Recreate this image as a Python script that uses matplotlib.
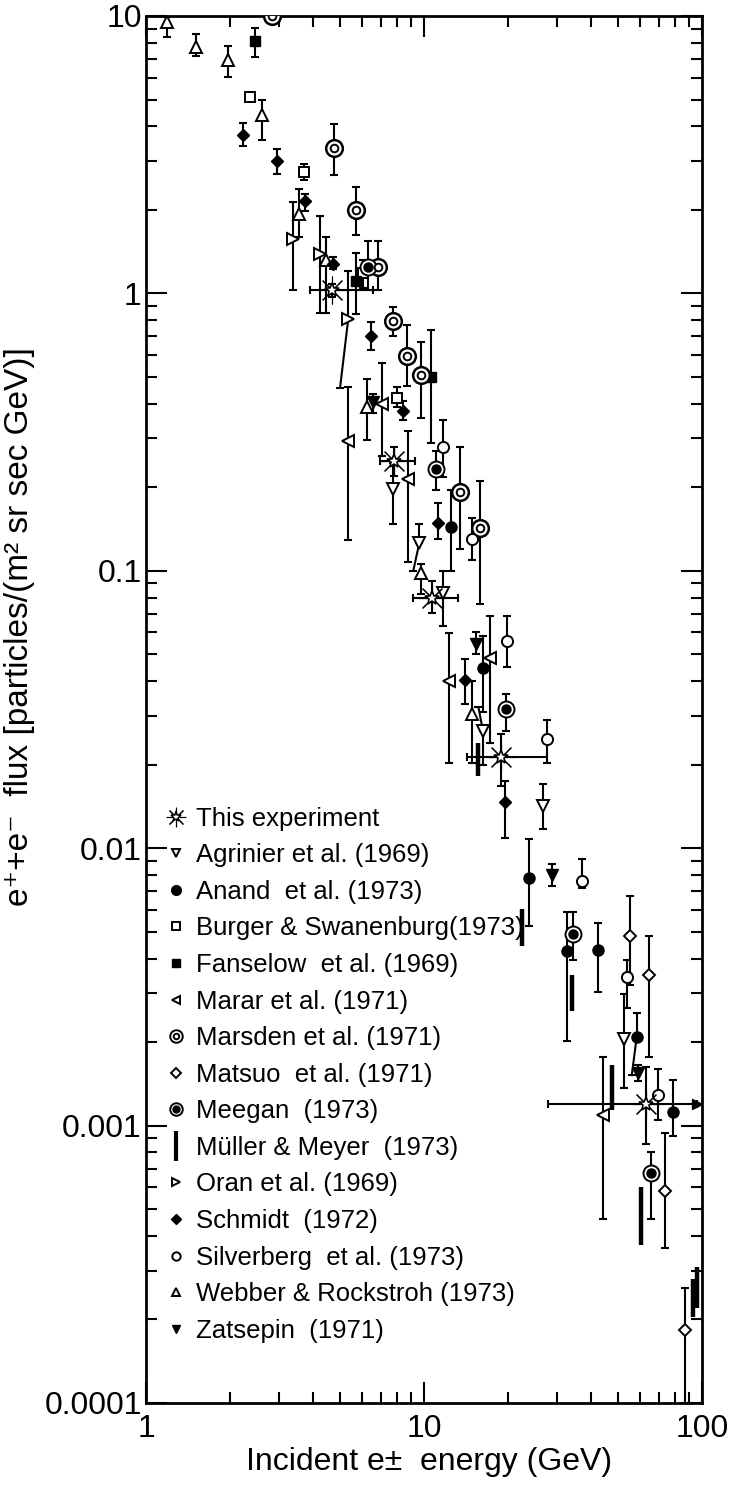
import numpy as np
import matplotlib.pyplot as plt
from matplotlib.lines import Line2D
from matplotlib.ticker import FixedLocator, FixedFormatter, LogLocator, NullFormatter

plt.rcParams['font.family'] = ['Liberation Sans', 'DejaVu Sans']

# ---- data (energy GeV, flux, lower, upper) ----
this_x = [4.68, 7.8, 10.66, 18.9, 62.9]
this_y = [1.025, 0.248, 0.080, 0.0213, 0.0012]
this_xlo = [3.89, 6.93, 9.14, 14.3, 27.9]
this_xhi = [6.56, 9.3, 13.3, 27.7, 95.7]
this_ylo = [0.97, 0.22, 0.0706, 0.0168, 0.00086]
this_yhi = [1.08, 0.28, 0.092, 0.0258, 0.00163]

agr_x = [7.76, 9.62, 11.67, 16.3, 26.9, 52.4]
agr_y = [0.197, 0.126, 0.083, 0.0264, 0.0142, 0.00206]
agr_lo = [0.148, 0.126, 0.063, 0.020, 0.0117, 0.00137]
agr_hi = [0.245, 0.147, 0.100, 0.0264, 0.0171, 0.00299]

anand_x = [12.5, 16.3, 23.9, 32.6, 42.4, 58.2, 78.8]
anand_y = [0.144, 0.0448, 0.00778, 0.00425, 0.0043, 0.00208, 0.00112]
anand_lo = [0.100, 0.031, 0.00524, 0.00202, 0.00303, 0.00208, 0.00092]
anand_hi = [0.195, 0.058, 0.0108, 0.00587, 0.00537, 0.00254, 0.00146]

burger_x = [2.36, 3.70, 6.02, 8.0]
burger_y = [5.12, 2.75, 1.18, 0.42]
burger_lo = [5.12, 2.57, 1.05, 0.39]
burger_hi = [5.12, 2.93, 1.32, 0.46]

fans_x = [2.47, 5.69, 10.57]
fans_y = [8.12, 1.11, 0.50]
fans_lo = [7.1, 0.84, 0.29]
fans_hi = [9.07, 1.40, 0.74]

marar_x = [5.31, 7.08, 8.78, 12.33, 17.3, 43.9]
marar_y = [0.294, 0.40, 0.214, 0.040, 0.0484, 0.00109]
marar_lo = [0.129, 0.26, 0.108, 0.0202, 0.024, 0.00046]
marar_hi = [0.46, 0.56, 0.32, 0.0595, 0.069, 0.00176]

mars_x = [2.83, 4.76, 5.69, 6.85, 7.71, 8.67, 9.73, 13.5, 15.9]
mars_y = [10.0, 3.34, 2.0, 1.25, 0.795, 0.597, 0.51, 0.192, 0.1426]
mars_lo = [9.7, 2.67, 1.62, 1.03, 0.70, 0.465, 0.355, 0.12, 0.076]
mars_hi = [10.3, 4.07, 2.42, 1.55, 0.89, 0.77, 0.67, 0.28, 0.21]

mats_x = [55.1, 64.6, 73.8, 87.1]
mats_y = [0.00481, 0.00348, 0.00058, 0.000183]
mats_lo = [0.00322, 0.00176, 0.000363, 0.00009]
mats_hi = [0.00671, 0.00481, 0.00094, 0.00026]

meeg_x = [6.3, 11.0, 19.7, 34.4, 65.4]
meeg_y = [1.25, 0.233, 0.0317, 0.0049, 0.000673]
meeg_lo = [1.03, 0.195, 0.0265, 0.00394, 0.00046]
meeg_hi = [1.55, 0.27, 0.036, 0.00587, 0.0008]

muller_x = [15.6, 22.6, 34.2, 47.3, 60.2, 92.5, 96.0]
muller_lo = [0.0182, 0.00443, 0.00258, 0.00114, 0.00037, 0.000205, 0.00022]
muller_hi = [0.024, 0.00605, 0.00348, 0.00166, 0.000602, 0.00028, 0.00031]

oran_x = [3.39, 4.22, 5.34]
oran_y = [1.57, 1.39, 0.81]
oran_lo = [1.03, 0.85, 0.81]
oran_hi = [2.13, 1.9, 1.2]

schm_x = [2.24, 2.95, 3.73, 4.72, 6.43, 8.38, 11.2, 14.1, 19.56]
schm_y = [3.72, 3.0, 2.15, 1.28, 0.70, 0.378, 0.149, 0.0405, 0.0147]
schm_lo = [3.39, 2.7, 1.98, 1.22, 0.625, 0.35, 0.13, 0.033, 0.0109]
schm_hi = [4.1, 3.32, 2.29, 1.35, 0.79, 0.41, 0.175, 0.048, 0.0175]

silv_x = [11.7, 14.85, 19.9, 27.6, 36.9, 53.6, 69.3]
silv_y = [0.279, 0.13, 0.056, 0.0247, 0.0076, 0.00342, 0.00129]
silv_lo = [0.218, 0.109, 0.045, 0.0203, 0.00721, 0.00265, 0.00105]
silv_hi = [0.35, 0.155, 0.069, 0.029, 0.00915, 0.00394, 0.0016]

webb_x = [1.19, 1.51, 1.98, 2.62, 3.54, 4.43, 6.22, 9.76, 14.9]
webb_y = [9.5, 7.74, 6.93, 4.4, 1.94, 1.32, 0.389, 0.098, 0.0304]
webb_lo = [8.4, 7.2, 6.04, 3.58, 1.60, 0.85, 0.295, 0.0826, 0.0203]
webb_hi = [9.9, 8.6, 7.8, 4.98, 2.37, 1.6, 0.49, 0.106, 0.040]

zats_x = [6.57, 15.35, 28.9, 59.0]
zats_y = [0.405, 0.0543, 0.008, 0.00155]
zats_lo = [0.37, 0.050, 0.0073, 0.00145]
zats_hi = [0.435, 0.060, 0.0088, 0.00166]

# slanted error-bar legs (from point to displaced cap)
leg_x0 = [5.34, 9.62, 16.3, 58.2]
leg_y0 = [0.81, 0.126, 0.0264, 0.00208]
leg_x1 = [4.99, 9.15, 15.7, 55.9]
leg_y1 = [0.457, 0.100, 0.0322, 0.00152]

labels = ['This experiment', 'Agrinier et al. (1969)', 'Anand  et al. (1973)',
          'Burger & Swanenburg(1973)', 'Fanselow  et al. (1969)', 'Marar et al. (1971)',
          'Marsden et al. (1971)', 'Matsuo  et al. (1971)', 'Meegan  (1973)',
          'Müller & Meyer  (1973)', 'Oran et al. (1969)', 'Schmidt  (1972)',
          'Silverberg  et al. (1973)', 'Webber & Rockstroh (1973)', 'Zatsepin  (1971)']

fig = plt.figure(figsize=(7.34, 14.88), dpi=100)
ax = fig.add_axes([146/734, 1-1403/1488, 556/734, 1387/1488])
ax.set_xscale('log')
ax.set_yscale('log')
ax.set_xlim(1, 100)
ax.set_ylim(1e-4, 10)

ebar = dict(fmt='none', ecolor='k', elinewidth=1.5, capsize=3, capthick=1.5, zorder=2)


def series(x, y, lo, hi, **kw):
    x = np.array(x); y = np.array(y)
    ax.errorbar(x, y, yerr=[y - np.array(lo), np.array(hi) - y], **ebar)
    ax.plot(x, y, ls='none', zorder=3, **kw)


open_kw = dict(mfc='white', mec='k', mew=1.4)
series(webb_x, webb_y, webb_lo, webb_hi, marker='^', ms=8, **open_kw)
series(agr_x, agr_y, agr_lo, agr_hi, marker='v', ms=8, **open_kw)
series(anand_x, anand_y, anand_lo, anand_hi, marker='o', ms=8, color='k')
series(burger_x, burger_y, burger_lo, burger_hi, marker='s', ms=7, **open_kw)
series(fans_x, fans_y, fans_lo, fans_hi, marker='s', ms=7, color='k')
series(marar_x, marar_y, marar_lo, marar_hi, marker='<', ms=8, **open_kw)
series(mars_x, mars_y, mars_lo, mars_hi, marker='o', ms=12, mfc='white', mec='k', mew=1.8)
ax.plot(mars_x, mars_y, ls='none', marker='o', ms=5.5, zorder=4, **open_kw)
series(mats_x, mats_y, mats_lo, mats_hi, marker='D', ms=6, **open_kw)
series(meeg_x, meeg_y, meeg_lo, meeg_hi, marker='o', ms=11.5, **open_kw)
ax.plot(meeg_x, meeg_y, ls='none', marker='o', ms=6.5, color='k', zorder=4)
series(oran_x, oran_y, oran_lo, oran_hi, marker='>', ms=8, **open_kw)
series(schm_x, schm_y, schm_lo, schm_hi, marker='D', ms=6, color='k')
series(silv_x, silv_y, silv_lo, silv_hi, marker='o', ms=8, **open_kw)
series(zats_x, zats_y, zats_lo, zats_hi, marker='v', ms=8, color='k')

ax.vlines(muller_x, muller_lo, muller_hi, color='k', lw=3.2, zorder=2)

for x0, y0, x1, y1 in zip(leg_x0, leg_y0, leg_x1, leg_y1):
    ax.plot([x0, x1], [y0, y1], color='k', lw=1.5, zorder=2)
ax.plot(leg_x1, leg_y1, ls='none', marker='_', ms=6, mew=1.5, color='k', zorder=2)

# this experiment
tx = np.array(this_x); ty = np.array(this_y)
ax.errorbar(tx, ty, xerr=[tx - np.array(this_xlo), np.array(this_xhi) - tx],
            yerr=[ty - np.array(this_ylo), np.array(this_yhi) - ty], **ebar)
ax.plot(this_xhi[-1:], this_y[-1:], ls='none', marker='>', ms=7, color='k', zorder=3)
ax.plot(tx, ty, ls='none', marker=(8, 2, 0), ms=20, mew=0.8, color='k', zorder=3)
ax.plot(tx, ty, ls='none', marker='*', ms=10, mfc='white', mec='k', mew=1.2, zorder=4)

# ticks
ax.xaxis.set_major_locator(FixedLocator([1, 10, 100]))
ax.xaxis.set_major_formatter(FixedFormatter(['1', '10', '100']))
ax.xaxis.set_minor_locator(LogLocator(base=10, subs=np.arange(2, 10)))
ax.xaxis.set_minor_formatter(NullFormatter())
yt = [1e-4, 1e-3, 1e-2, 1e-1, 1, 10]
ax.yaxis.set_major_locator(FixedLocator(yt))
ax.yaxis.set_major_formatter(FixedFormatter(['0.0001', '0.001', '0.01', '0.1', '1', '10']))
ax.yaxis.set_minor_locator(LogLocator(base=10, subs=np.arange(2, 10)))
ax.yaxis.set_minor_formatter(NullFormatter())
ax.tick_params(which='both', direction='in', top=True, right=True, width=1.5, labelsize=23)
ax.tick_params(which='major', length=15)
ax.tick_params(which='minor', length=8)
ax.tick_params(axis='y', pad=3)
ax.tick_params(axis='x', pad=8)
for s in ax.spines.values():
    s.set_linewidth(2)

ax.set_ylabel('e⁺+e⁻  flux [particles/(m² sr sec GeV)]', fontsize=24)
ax.yaxis.set_label_coords(-0.2, 0.56)
ax.set_xlabel('Incident e±  energy (GeV)', fontsize=23)
ax.xaxis.set_label_coords(0.51, -0.032)

# legend
lk = dict(ls='none', color='k')
handles = [
    (Line2D([], [], marker=(8, 2, 0), ms=14, mew=0.8, **lk),
     Line2D([], [], marker='*', ms=8, mfc='white', mec='k', mew=1.1, ls='none')),
    Line2D([], [], marker='v', ms=6, **open_kw, ls='none'),
    Line2D([], [], marker='o', ms=7, **lk),
    Line2D([], [], marker='s', ms=6, **open_kw, ls='none'),
    Line2D([], [], marker='s', ms=6, **lk),
    Line2D([], [], marker='<', ms=6, **open_kw, ls='none'),
    (Line2D([], [], marker='o', ms=9, **open_kw, ls='none'),
     Line2D([], [], marker='o', ms=4, **open_kw, ls='none')),
    Line2D([], [], marker='D', ms=5, **open_kw, ls='none'),
    (Line2D([], [], marker='o', ms=9, **open_kw, ls='none'),
     Line2D([], [], marker='o', ms=5, **lk)),
    Line2D([], [], marker='|', ms=22, mew=3, **lk),
    Line2D([], [], marker='>', ms=6, **open_kw, ls='none'),
    Line2D([], [], marker='D', ms=5, **lk),
    Line2D([], [], marker='o', ms=6, **open_kw, ls='none'),
    Line2D([], [], marker='^', ms=6, **open_kw, ls='none'),
    Line2D([], [], marker='v', ms=6, **lk),
]
ax.legend(handles, labels, loc='upper left', bbox_to_anchor=(0.03, 0.430),
          frameon=False, fontsize=18.5, handlelength=1.0, handletextpad=0.3,
          labelspacing=0.49, borderaxespad=0, borderpad=0)

fig.savefig('out.png', dpi=100)
